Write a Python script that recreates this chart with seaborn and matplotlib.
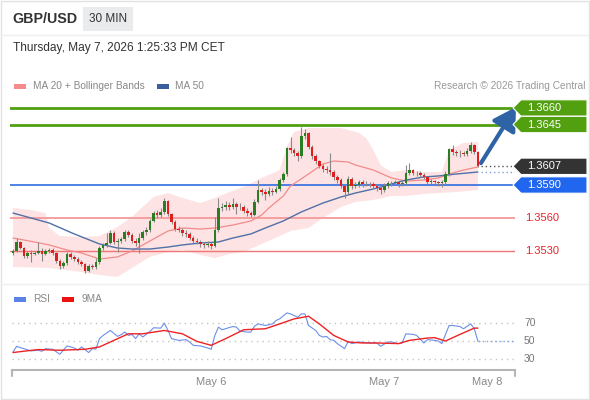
import matplotlib
matplotlib.use("Agg")
import matplotlib.pyplot as plt
import seaborn as sns
import pandas as pd
from matplotlib.patches import Polygon, Rectangle
from matplotlib.lines import Line2D
from matplotlib.transforms import blended_transform_factory

# ---------------- data ----------------
opens = [
1.35282, 1.35300, 1.35382, 1.35327, 1.35255, 1.35282, 1.35273, 1.35282, 1.35300, 1.35273,
1.35300, 1.35309, 1.35282, 1.35209, 1.35164, 1.35191, 1.35273, 1.35245, 1.35227, 1.35200,
1.35182, 1.35118, 1.35164, 1.35155, 1.35200, 1.35327, 1.35355, 1.35373, 1.35464, 1.35382,
1.35391, 1.35409, 1.35473, 1.35445, 1.35391, 1.35373, 1.35418, 1.35473, 1.35491, 1.35573,
1.35645, 1.35627, 1.35655, 1.35755, 1.35636, 1.35564, 1.35500, 1.35491, 1.35464, 1.35455,
1.35418, 1.35391, 1.35382, 1.35364, 1.35355, 1.35364, 1.35345, 1.35491, 1.35691, 1.35700,
1.35718, 1.35700, 1.35727, 1.35700, 1.35704, 1.35664, 1.35645, 1.35627, 1.35745, 1.35855,
1.35836, 1.35818, 1.35845, 1.35836, 1.35864, 1.35945, 1.36000, 1.36236, 1.36218, 1.36191,
1.36164, 1.36345, 1.36373, 1.36245, 1.36164, 1.36118, 1.36073, 1.36045, 1.36036, 1.36018,
1.35973, 1.35945, 1.35891, 1.35836, 1.35955, 1.35891, 1.35900, 1.35927, 1.35909, 1.35912,
1.35906, 1.35891, 1.35873, 1.35855, 1.35891, 1.35918, 1.35920, 1.35927, 1.35909, 1.35918,
1.36009, 1.36036, 1.36009, 1.36012, 1.35991, 1.35973, 1.35927, 1.35936, 1.35927, 1.35918,
1.35927, 1.36000, 1.36227, 1.36200, 1.36191, 1.36195, 1.36182, 1.36209, 1.36264, 1.36200,
]
highs = [
1.35315, 1.35418, 1.35395, 1.35340, 1.35300, 1.35310, 1.35300, 1.35380, 1.35330, 1.35320,
1.35330, 1.35325, 1.35295, 1.35230, 1.35210, 1.35295, 1.35290, 1.35260, 1.35245, 1.35220,
1.35195, 1.35180, 1.35185, 1.35240, 1.35345, 1.35375, 1.35460, 1.35490, 1.35480, 1.35415,
1.35430, 1.35495, 1.35490, 1.35460, 1.35415, 1.35460, 1.35495, 1.35520, 1.35595, 1.35665,
1.35670, 1.35695, 1.35780, 1.35765, 1.35650, 1.35580, 1.35525, 1.35510, 1.35490, 1.35470,
1.35435, 1.35415, 1.35400, 1.35385, 1.35390, 1.35380, 1.35610, 1.35782, 1.35735, 1.35755,
1.35750, 1.35780, 1.35750, 1.35740, 1.35715, 1.35690, 1.35660, 1.35770, 1.35945, 1.35875,
1.35865, 1.35880, 1.35870, 1.35890, 1.35965, 1.36020, 1.36250, 1.36336, 1.36240, 1.36210,
1.36427, 1.36410, 1.36385, 1.36260, 1.36185, 1.36130, 1.36095, 1.36070, 1.36190, 1.36035,
1.35990, 1.35960, 1.35910, 1.35980, 1.35970, 1.35930, 1.35950, 1.35945, 1.35935, 1.35930,
1.35925, 1.35910, 1.35890, 1.35915, 1.35935, 1.35940, 1.35945, 1.35940, 1.35935, 1.36082,
1.36100, 1.36050, 1.36030, 1.36025, 1.36010, 1.35985, 1.35955, 1.35950, 1.35940, 1.35945,
1.36030, 1.36240, 1.36260, 1.36220, 1.36215, 1.36210, 1.36240, 1.36290, 1.36275, 1.36210,
]
lows = [
1.35265, 1.35290, 1.35315, 1.35240, 1.35235, 1.35200, 1.35260, 1.35275, 1.35210, 1.35260,
1.35285, 1.35265, 1.35190, 1.35140, 1.35145, 1.35175, 1.35230, 1.35210, 1.35180, 1.35160,
1.35100, 1.35105, 1.35135, 1.35140, 1.35180, 1.35310, 1.35340, 1.35360, 1.35365, 1.35290,
1.35375, 1.35395, 1.35430, 1.35375, 1.35350, 1.35280, 1.35400, 1.35450, 1.35475, 1.35560,
1.35600, 1.35610, 1.35640, 1.35620, 1.35545, 1.35480, 1.35470, 1.35440, 1.35430, 1.35400,
1.35370, 1.35360, 1.35340, 1.35330, 1.35335, 1.35315, 1.35335, 1.35475, 1.35660, 1.35675,
1.35670, 1.35685, 1.35640, 1.35670, 1.35645, 1.35620, 1.35605, 1.35615, 1.35735, 1.35810,
1.35760, 1.35800, 1.35810, 1.35825, 1.35850, 1.35930, 1.35985, 1.36195, 1.36160, 1.36120,
1.36150, 1.36320, 1.36225, 1.36140, 1.36090, 1.36055, 1.36020, 1.36005, 1.35995, 1.35950,
1.35920, 1.35870, 1.35782, 1.35820, 1.35865, 1.35870, 1.35885, 1.35885, 1.35890, 1.35880,
1.35870, 1.35850, 1.35815, 1.35840, 1.35875, 1.35895, 1.35900, 1.35885, 1.35890, 1.35905,
1.35995, 1.35990, 1.35985, 1.35975, 1.35955, 1.35910, 1.35910, 1.35905, 1.35895, 1.35885,
1.35905, 1.35985, 1.36170, 1.36165, 1.36155, 1.36160, 1.36165, 1.36195, 1.36185, 1.36060,
]
closes = [
1.35300, 1.35382, 1.35327, 1.35255, 1.35282, 1.35273, 1.35282, 1.35300, 1.35273, 1.35300,
1.35309, 1.35282, 1.35209, 1.35164, 1.35191, 1.35273, 1.35245, 1.35227, 1.35200, 1.35182,
1.35118, 1.35164, 1.35155, 1.35200, 1.35327, 1.35355, 1.35373, 1.35464, 1.35382, 1.35391,
1.35409, 1.35473, 1.35445, 1.35391, 1.35373, 1.35418, 1.35473, 1.35491, 1.35573, 1.35645,
1.35627, 1.35655, 1.35755, 1.35636, 1.35564, 1.35500, 1.35491, 1.35464, 1.35455, 1.35418,
1.35391, 1.35382, 1.35364, 1.35355, 1.35364, 1.35345, 1.35491, 1.35691, 1.35700, 1.35718,
1.35700, 1.35727, 1.35700, 1.35704, 1.35664, 1.35645, 1.35627, 1.35745, 1.35855, 1.35836,
1.35818, 1.35845, 1.35836, 1.35864, 1.35945, 1.36000, 1.36236, 1.36218, 1.36191, 1.36164,
1.36345, 1.36373, 1.36245, 1.36164, 1.36118, 1.36073, 1.36045, 1.36036, 1.36018, 1.35973,
1.35945, 1.35891, 1.35836, 1.35955, 1.35891, 1.35900, 1.35927, 1.35909, 1.35912, 1.35906,
1.35891, 1.35873, 1.35855, 1.35891, 1.35918, 1.35920, 1.35927, 1.35909, 1.35918, 1.36009,
1.36036, 1.36009, 1.36012, 1.35991, 1.35973, 1.35927, 1.35936, 1.35927, 1.35918, 1.35927,
1.36000, 1.36227, 1.36200, 1.36191, 1.36195, 1.36182, 1.36209, 1.36264, 1.36200, 1.36070,
]

ma20_idx = [0, 6, 10, 15, 19, 24, 29, 33, 38, 43, 47, 52, 56, 61, 66, 69, 71, 75, 77, 82,
            86, 89, 93, 95, 100, 105, 109, 114, 118, 122, 125, 129]
ma20_val = [1.35418, 1.35382, 1.35355, 1.35309, 1.35282, 1.35227, 1.35246, 1.35300, 1.35391, 1.35482,
            1.35509, 1.35500, 1.35509, 1.35536, 1.35573, 1.35627, 1.35691, 1.35800, 1.35891, 1.36000,
            1.36091, 1.36118, 1.36109, 1.36082, 1.36036, 1.35964, 1.35936, 1.35945, 1.35964, 1.36009,
            1.36036, 1.36064]
ma50_idx = [0, 5, 10, 17, 24, 29, 33, 38, 43, 47, 52, 57, 61, 66, 70, 75, 80, 86, 91, 95,
            100, 105, 109, 114, 118, 123, 129]
ma50_val = [1.35645, 1.35600, 1.35555, 1.35455, 1.35364, 1.35327, 1.35318, 1.35318, 1.35336, 1.35355,
            1.35373, 1.35382, 1.35418, 1.35455, 1.35509, 1.35573, 1.35655, 1.35736, 1.35791, 1.35827,
            1.35864, 1.35909, 1.35945, 1.35973, 1.35982, 1.36000, 1.36018]
bb_up_idx = [0, 5, 9, 10, 13, 19, 24, 29, 33, 36, 39, 43, 47, 52, 56, 60, 64, 69, 74, 76,
             78, 82, 91, 96, 98, 100, 102, 105, 109, 114, 119, 121, 125, 129]
bb_up_val = [1.35691, 1.35673, 1.35645, 1.35509, 1.35436, 1.35427, 1.35436, 1.35518, 1.35609, 1.35700,
             1.35791, 1.35827, 1.35782, 1.35736, 1.35782, 1.35836, 1.35882, 1.35964, 1.36036, 1.36245,
             1.36382, 1.36418, 1.36418, 1.36373, 1.36327, 1.36218, 1.36082, 1.36018, 1.36036, 1.36018,
             1.36018, 1.36218, 1.36282, 1.36291]
bb_lo_idx = [0, 10, 19, 24, 29, 33, 38, 43, 47, 52, 56, 60, 64, 69, 74, 77, 82, 86, 91, 95,
             100, 105, 109, 114, 118, 123, 129]
bb_lo_val = [1.35155, 1.35146, 1.35109, 1.35082, 1.35064, 1.35146, 1.35246, 1.35291, 1.35309, 1.35264,
             1.35236, 1.35273, 1.35291, 1.35364, 1.35436, 1.35482, 1.35509, 1.35600, 1.35700, 1.35745,
             1.35764, 1.35800, 1.35800, 1.35818, 1.35827, 1.35836, 1.35855]

rsi_idx = [0, 1, 3, 5, 7, 8, 9, 11, 13, 15, 17, 18, 19, 21, 22, 23, 24, 25, 27, 29,
           30, 31, 32, 33, 34, 35, 36, 38, 39, 41, 42, 43, 44, 46, 48, 49, 50, 52, 53, 54,
           55, 56, 57, 58, 61, 62, 63, 65, 66, 67, 68, 70, 72, 73, 74, 76, 77, 79, 80, 81,
           82, 84, 85, 86, 87, 88, 89, 90, 92, 93, 94, 96, 98, 99, 101, 102, 104, 105, 107, 108,
           109, 111, 112, 114, 115, 117, 118, 119, 121, 122, 124, 125, 127, 128, 129]
rsi_val = [37.9, 44.0, 41.5, 39.0, 39.7, 38.6, 41.5, 40.8, 35.3, 44.5, 42.3, 39.7, 43.4, 37.2, 41.5, 41.0, 52.6, 56.2, 61.7, 55.1,
           57.0, 60.0, 56.2, 57.3, 52.6, 58.0, 54.4, 60.6, 64.7, 64.3, 69.8, 61.7, 52.6, 50.7, 51.5, 48.9, 45.2, 44.5, 43.4, 42.3,
           40.8, 56.0, 65.4, 62.5, 66.1, 65.4, 61.0, 59.9, 59.9, 66.5, 69.0, 67.2, 69.0, 72.8, 74.6, 81.2, 80.1, 76.4, 80.1, 80.1,
           67.2, 61.7, 56.2, 54.4, 55.1, 51.5, 50.7, 47.1, 41.5, 49.6, 47.1, 48.9, 48.2, 47.8, 47.8, 44.1, 48.9, 48.9, 47.1, 47.8,
           58.0, 57.3, 56.2, 47.8, 51.5, 50.7, 50.0, 47.1, 67.2, 67.2, 66.1, 63.6, 69.0, 63.6, 49.6]
ma9_idx = [0, 7, 13, 20, 24, 28, 32, 36, 42, 47, 51, 55, 59, 64, 70, 74, 78, 82, 85, 89,
           93, 97, 101, 107, 110, 115, 117, 120, 124, 128, 129]
ma9_val = [37.2, 40.5, 39.7, 40.8, 43.4, 50.7, 58.0, 58.0, 61.7, 58.0, 49.6, 45.2, 52.6, 62.5, 63.6, 69.0, 74.6, 77.5, 69.0, 56.2,
           48.9, 47.8, 47.8, 47.1, 50.7, 53.3, 53.7, 50.0, 57.3, 64.3, 64.3]

resistances = [1.3660, 1.3645]
last_price = 1.3607
pivot = 1.3590
supports = [1.3560, 1.3530]
rsi_levels = [70, 50, 30]
date_ticks = [54.9, 102.9, 131.5]
date_labels = ["May 6", "May 7", "May 8"]

# ---------------- figure ----------------
sns.set_theme(style="white")
plt.rcParams['font.family'] = ['Liberation Sans', 'DejaVu Sans']

W, H = 590, 400
fig = plt.figure(figsize=(W / 100, H / 100), dpi=100)
fig.patch.set_facecolor("white")


def fx(px):
    return px / W


def fy(py):
    return 1 - py / H


PX_PER_BAR = 3.604
X0 = 13


def idx_of(px):
    return (px - X0) / PX_PER_BAR


# frame / separators
fig.add_artist(Rectangle((fx(0.5), fy(398.5)), fx(588), 398 / H, transform=fig.transFigure,
                         fill=False, edgecolor="#e2e2e2", lw=1))
fig.add_artist(Line2D([fx(1), fx(588)], [fy(35), fy(35)], transform=fig.transFigure,
                      color="#efefef", lw=1))
fig.add_artist(Line2D([fx(1), fx(588)], [fy(284), fy(284)], transform=fig.transFigure,
                      color="#efefef", lw=1))

# header
fig.text(fx(12), fy(19), "GBP/USD", fontsize=10.3, fontweight="bold", color="#333333", va="center")
fig.add_artist(Rectangle((fx(83), fy(31)), fx(50), 24 / H, transform=fig.transFigure,
                         facecolor="#e9ebed", edgecolor="none"))
fig.text(fx(108), fy(19), "30 MIN", fontsize=8.5, color="#333333", va="center", ha="center")
fig.text(fx(13), fy(48), "Thursday, May 7, 2026 1:25:33 PM CET", fontsize=8.6, color="#333333", va="center")

# legends
fig.add_artist(Rectangle((fx(14), fy(89)), fx(12), 5 / H, transform=fig.transFigure,
                         facecolor="#f58c8c", edgecolor="none"))
fig.text(fx(33), fy(86), "MA 20 + Bollinger Bands", fontsize=7.3, color="#888888", va="center")
fig.add_artist(Rectangle((fx(157), fy(89)), fx(12), 5 / H, transform=fig.transFigure,
                         facecolor="#3b5f9e", edgecolor="none"))
fig.text(fx(175), fy(86), "MA 50", fontsize=7.3, color="#888888", va="center")
fig.text(fx(585), fy(86), "Research \u00a9 2026 Trading Central", fontsize=7.3, color="#999999",
         va="center", ha="right")

fig.add_artist(Rectangle((fx(14), fy(302)), fx(12), 5 / H, transform=fig.transFigure,
                         facecolor="#5b83e6", edgecolor="none"))
fig.text(fx(33), fy(299), "RSI", fontsize=7.3, color="#888888", va="center")
fig.add_artist(Rectangle((fx(62), fy(302)), fx(12), 5 / H, transform=fig.transFigure,
                         facecolor="#ee1111", edgecolor="none"))
fig.text(fx(82), fy(299), "9MA", fontsize=7.3, color="#888888", va="center")

# ---------------- main price panel ----------------
ax = fig.add_axes([fx(10), fy(280), fx(505), 180 / H])
ax.set_xlim(idx_of(10), idx_of(515))
ax.set_ylim(1.3590 - 95 / 11000, 1.3590 + 85 / 11000)
ax.axis("off")

# Bollinger band fill
ax.fill(bb_up_idx + bb_lo_idx[::-1], bb_up_val + bb_lo_val[::-1],
        color="#fde3e3", lw=0, zorder=0)

# level lines
for r in resistances:
    ax.axhline(r, color="#52a010", lw=2, zorder=1)
ax.axhline(pivot, color="#2f6de1", lw=1.2, zorder=1)
ax.axhline(supports[0], color="#f5a0a0", lw=1.4, zorder=1)
ax.axhline(supports[1], color="#f07575", lw=1.0, zorder=1)

# moving averages
sns.lineplot(x=ma20_idx, y=ma20_val, ax=ax, color="#f28b8b", lw=0.9, zorder=2, legend=False)
sns.lineplot(x=ma50_idx, y=ma50_val, ax=ax, color="#5070a8", lw=1.0, zorder=2, legend=False)

# candles
df = pd.DataFrame({"o": opens, "h": highs, "l": lows, "c": closes})
df["i"] = range(len(df))
df["up"] = df["c"] >= df["o"]
df["bottom"] = df[["o", "c"]].min(axis=1)
df["height"] = (df["c"] - df["o"]).abs().clip(lower=0.00003)
ax.vlines(df["i"], df["l"], df["h"], color="#8a8a8a", lw=0.8, zorder=3)
ax.bar(df["i"], df["height"], bottom=df["bottom"], width=0.72,
       color=["#2a7d22" if u else "#e01e1e" for u in df["up"]], lw=0, zorder=4)

# dotted extensions
last_i = len(closes) - 1
ax.plot([last_i + 0.8, idx_of(516)], [last_price, last_price], ls=(0, (1, 2)), color="#555555", lw=1, zorder=2)
ax.plot([last_i + 0.8, idx_of(516)], [ma50_val[-1], ma50_val[-1]], ls=(0, (1, 2)), color="#7f9fd4", lw=1, zorder=2)

# arrow
ax.annotate("", xy=(idx_of(516), 1.3590 + 78 / 11000), xytext=(idx_of(481), 1.3590 + 22 / 11000),
            arrowprops=dict(arrowstyle="-|>,head_width=0.5,head_length=0.85", color="#2e63a6",
                            lw=3, shrinkA=0, shrinkB=0, mutation_scale=16),
            annotation_clip=False, zorder=6)

# tags
tr = blended_transform_factory(fig.transFigure, ax.transData)
hh = 8.2 / 11000


def tag(price, color, text):
    pts = [(fx(513), price), (fx(521), price + hh), (fx(587), price + hh),
           (fx(587), price - hh), (fx(521), price - hh)]
    poly = Polygon(pts, closed=True, transform=tr, facecolor=color, edgecolor="white",
                   lw=0.8, clip_on=False, zorder=7)
    fig.add_artist(poly)
    fig.text(fx(527), 0, text, transform=tr, fontsize=8, color="white", va="center",
             zorder=8).set_y(price)


tag(resistances[0], "#52a010", f"{resistances[0]:.4f}")
tag(resistances[1], "#52a010", f"{resistances[1]:.4f}")
tag(last_price, "#333333", f"{last_price:.4f}")
tag(pivot, "#2166ee", f"{pivot:.4f}")
for s in supports:
    t = fig.text(fx(525), 0, f"{s:.4f}", transform=tr, fontsize=8, color="#e8252b", va="center")
    t.set_y(s)

# ---------------- RSI panel ----------------
ax2 = fig.add_axes([fx(12), fy(370), fx(503), 70 / H])
ax2.set_xlim(idx_of(12), idx_of(515))
ax2.set_ylim(50 - 29 / 0.9, 50 + 41 / 0.9)
for s in ["top", "left", "right"]:
    ax2.spines[s].set_visible(False)
ax2.spines["bottom"].set_color("#b5b5b5")
ax2.spines["bottom"].set_linewidth(1.5)
ax2.set_yticks([])
ax2.set_xticks(date_ticks)
ax2.set_xticklabels(date_labels)
ax2.tick_params(axis="x", length=0, pad=5, labelsize=8, labelcolor="#888888")
for xa in (0, 1):
    ax2.plot([xa, xa], [0, -0.08], transform=ax2.transAxes, color="#b5b5b5", lw=1.5, clip_on=False)

for v in rsi_levels:
    ax2.axhline(v, color="#c4c4c4", lw=1, ls=(0, (1, 3)), zorder=1)
tr2 = blended_transform_factory(fig.transFigure, ax2.transData)
for v in rsi_levels:
    t = fig.text(fx(524), 0, str(v), transform=tr2, fontsize=7.5, color="#777777", va="center")
    t.set_y(v)

sns.lineplot(x=rsi_idx, y=rsi_val, ax=ax2, color="#6b8fe8", lw=0.8, zorder=3, legend=False)
sns.lineplot(x=ma9_idx, y=ma9_val, ax=ax2, color="#ee2222", lw=1.0, zorder=4, legend=False)
ax2.plot([rsi_idx[-1], idx_of(516)], [50, 50], ls=(0, (1, 2)), color="#7f9fe8", lw=1, zorder=2)
ax2.set_xlabel("")
ax2.set_ylabel("")

fig.savefig("out.png", dpi=100)
